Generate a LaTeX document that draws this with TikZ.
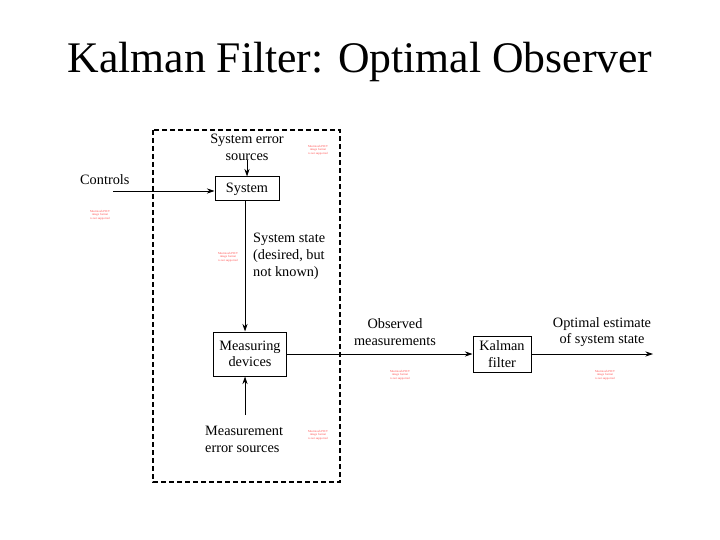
\documentclass[tikz,border=0pt]{standalone}
\usepackage{fontspec}
\setmainfont{Liberation Serif}
\usetikzlibrary{arrows.meta}
\begin{document}
\begin{tikzpicture}[x=1pt,y=-1pt,
  blk/.style={draw,line width=1pt,inner sep=0pt,font=\fontsize{14.3}{16.5}\selectfont,align=center},
  lbl/.style={font=\fontsize{14.3}{16.8}\selectfont,inner sep=0pt},
  pict/.style={text=red!70,font=\fontsize{3}{3.6}\selectfont,align=center,inner sep=0pt},
  conn/.style={line width=0.8pt},
  arr/.style={conn,-{Stealth[length=7.5pt,width=5pt]}}]
\useasboundingbox (0,0) rectangle (720,540);
\node[font=\fontsize{43.7}{48}\selectfont] (title) at (360,62) {Kalman Filter: Optimal Observer};
\draw[line width=1.1pt,dash pattern=on 5pt off 3pt] (153,130) rectangle (340,482);
\node[blk,minimum width=64pt,minimum height=24pt] (sys) at (247,189) {System};
\node[blk,minimum width=73pt,minimum height=44pt] (meas) at (250,354) {Measuring\\devices};
\node[blk,minimum width=58pt,minimum height=36pt] (kal) at (502,354) {Kalman\\filter};
\node[lbl,align=center] (ses) at (247,147) {System error\\sources};
\node[lbl,anchor=west] (ctrl) at (80,180) {Controls};
\node[lbl,align=left,anchor=north west] (state) at (253,233) {System state\\(desired, but\\not known)};
\node[lbl,align=left,anchor=north west] (mes) at (205,426) {Measurement\\error sources};
\node[lbl,align=center] (obs) at (395,332) {Observed\\measurements};
\node[lbl,align=center] (opt) at (602,332) {Optimal estimate\\of system state};
\coordinate (cin) at (113,191);
\coordinate (mesTop) at (245,415);
\coordinate (out) at (653,354);
\draw[arr] (ses.south -| sys) -- (sys.north);
\draw[arr] (cin) -- (sys.west |- cin);
\draw[arr] (sys.south -| 245,0) -- (meas.north -| 245,0);
\draw[arr] (mesTop) -- (meas.south -| mesTop);
\draw[arr] (meas.east) -- (kal.west);
\draw[arr] (kal.east) -- (out);
\node[pict] (p1) at (318,150) {Macintosh PICT\\image format\\is not supported};
\node[pict] (p2) at (100,215) {Macintosh PICT\\image format\\is not supported};
\node[pict] (p3) at (228,257) {Macintosh PICT\\image format\\is not supported};
\node[pict] (p4) at (318,435) {Macintosh PICT\\image format\\is not supported};
\node[pict] (p5) at (400,375) {Macintosh PICT\\image format\\is not supported};
\node[pict] (p6) at (605,375) {Macintosh PICT\\image format\\is not supported};
\end{tikzpicture}
\end{document}
